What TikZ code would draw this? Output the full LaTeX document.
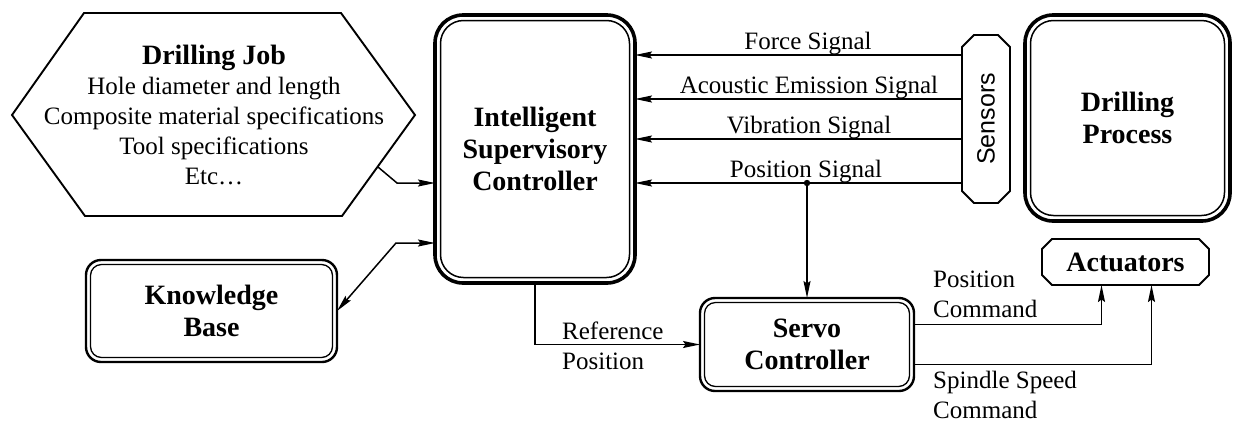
\documentclass[tikz,border=0pt]{standalone}
\usepackage{fontspec}
\usepackage{graphicx}
\setmainfont{Liberation Serif}
\newfontfamily\sensfont{Liberation Sans}
\usetikzlibrary{arrows.meta,calc}
\begin{document}
\begin{tikzpicture}[x=1pt,y=-1pt,
  txt/.style={font=\fontsize{25}{30}\selectfont, inner sep=0pt},
  boldtxt/.style={font=\fontsize{28}{32}\selectfont\bfseries, align=center},
  heavybox/.style={boldtxt, draw, line width=3.6pt, rounded corners=28pt, inner sep=0pt, outer sep=0pt},
  lightbox/.style={boldtxt, draw, line width=2.4pt, rounded corners=15pt, inner sep=0pt, outer sep=0pt},
  plainbox/.style={inner sep=0pt, outer sep=0pt},
  innerline/.style={line width=1.5pt},
  outline/.style={line width=1.9pt, line join=miter},
  tip/.tip={Stealth[length=17pt,width=7pt,inset=2.5pt]},
  conn/.style={line width=1.5pt, -tip},
  bothconn/.style={line width=1.5pt, tip-tip},
]
\useasboundingbox (0,0) rectangle (1233,424);

% ---- main blocks ----
\node[heavybox, minimum width=200pt, minimum height=268pt] (isc) at (535,149)
  {Intelligent\\Supervisory\\Controller};
\draw[innerline, rounded corners=23pt]
  ($(isc.north west)+(5.5,5.5)$) rectangle ($(isc.south east)+(-5.5,-5.5)$);

\node[heavybox, minimum width=205pt, minimum height=206pt] (dp) at (1127.5,118)
  {Drilling\\Process};
\draw[innerline, rounded corners=23pt]
  ($(dp.north west)+(5.5,5.5)$) rectangle ($(dp.south east)+(-5.5,-5.5)$);

\node[lightbox, minimum width=251pt, minimum height=102pt] (kb) at (211.5,311)
  {Knowledge\\Base};
\draw[innerline, line width=1.3pt, rounded corners=11pt]
  ($(kb.north west)+(4.5,4.5)$) rectangle ($(kb.south east)+(-4.5,-4.5)$);

\node[lightbox, minimum width=214pt, minimum height=93pt] (servo) at (807,344.5)
  {Servo\\Controller};
\draw[innerline, line width=1.3pt, rounded corners=11pt]
  ($(servo.north west)+(4.5,4.5)$) rectangle ($(servo.south east)+(-4.5,-4.5)$);

% ---- drilling job (hexagon) ----
\draw[outline] (84,13) -- (341,13) -- (415,115) -- (342,216) -- (85,216) -- (12,115) -- cycle;
\node[txt, align=center] (job) at (214,114.5)
  {{\fontsize{28}{30}\selectfont\bfseries Drilling Job}\\
   Hole diameter and length\\
   Composite material specifications\\
   Tool specifications\\
   Etc…};

% ---- sensors (chamfered) ----
\node[plainbox, minimum width=48pt, minimum height=168pt] (sens) at (986,119)
  {\rotatebox{90}{\sensfont\fontsize{25}{30}\selectfont Sensors}};
\draw[outline]
  ($(sens.north west)+(12,0)$) -- ($(sens.north east)+(-12,0)$) --
  ($(sens.north east)+(0,12)$) -- ($(sens.south east)+(0,-12)$) --
  ($(sens.south east)+(-12,0)$) -- ($(sens.south west)+(12,0)$) --
  ($(sens.south west)+(0,-12)$) -- ($(sens.north west)+(0,12)$) -- cycle;

% ---- actuators (chamfered) ----
\node[plainbox, boldtxt, minimum width=167pt, minimum height=46pt] (act) at (1125.5,262)
  {Actuators};
\draw[outline]
  ($(act.north west)+(10,0)$) -- ($(act.north east)+(-10,0)$) --
  ($(act.north east)+(0,10)$) -- ($(act.south east)+(0,-10)$) --
  ($(act.south east)+(-10,0)$) -- ($(act.south west)+(10,0)$) --
  ($(act.south west)+(0,-10)$) -- ($(act.north west)+(0,10)$) -- cycle;

% ---- signal levels ----
\coordinate (yF) at (0,55);
\coordinate (yA) at (0,99);
\coordinate (yV) at (0,139);
\coordinate (yP) at (0,183);

% ---- sensor signals into the supervisory controller ----
\draw[conn] (sens.west |- yF) -- (isc.east |- yF);
\draw[conn] (sens.west |- yA) -- (isc.east |- yA);
\draw[conn] (sens.west |- yV) -- (isc.east |- yV);
\draw[conn] (sens.west |- yP) -- (isc.east |- yP);

\node[txt, anchor=base] (lF) at (808,49)  {Force Signal};
\node[txt, anchor=base] (lA) at (809,93)  {Acoustic Emission Signal};
\node[txt, anchor=base] (lV) at (809,133) {Vibration Signal};
\node[txt, anchor=base] (lP) at (806,177) {Position Signal};

% ---- position feedback tapped to the servo controller ----
\coordinate (tap) at (servo.north |- yP);
\fill (tap) circle (3.2pt);
\draw[conn] (tap) -- (servo.north);

% ---- drilling job into the supervisory controller ----
\coordinate (jobout) at (378,167);
\coordinate (jobknee) at (397,183);
\draw[conn] (jobout) -- (jobknee) -- (isc.west |- jobknee);

% ---- knowledge base exchange ----
\coordinate (kbknee) at (396,243);
\draw[bothconn] (kb.east) -- (kbknee) -- (isc.west |- kbknee);

% ---- reference position ----
\draw[conn] (isc.south) |- (servo.west);
\node[txt, align=left, anchor=west] (lref) at (562,346) {Reference\\Position};

% ---- commands to the actuators ----
\draw[conn] ($(servo.east)+(0,-20)$) -| ($(act.south)+(-24,0)$);
\draw[conn] ($(servo.east)+(0,20)$) -| ($(act.south)+(26,0)$);
\node[txt, align=left, anchor=west] (lpc) at (933,294.5) {Position\\Command};
\node[txt, align=left, anchor=west] (lsc) at (933,394.5) {Spindle Speed\\Command};

\end{tikzpicture}
\end{document}
